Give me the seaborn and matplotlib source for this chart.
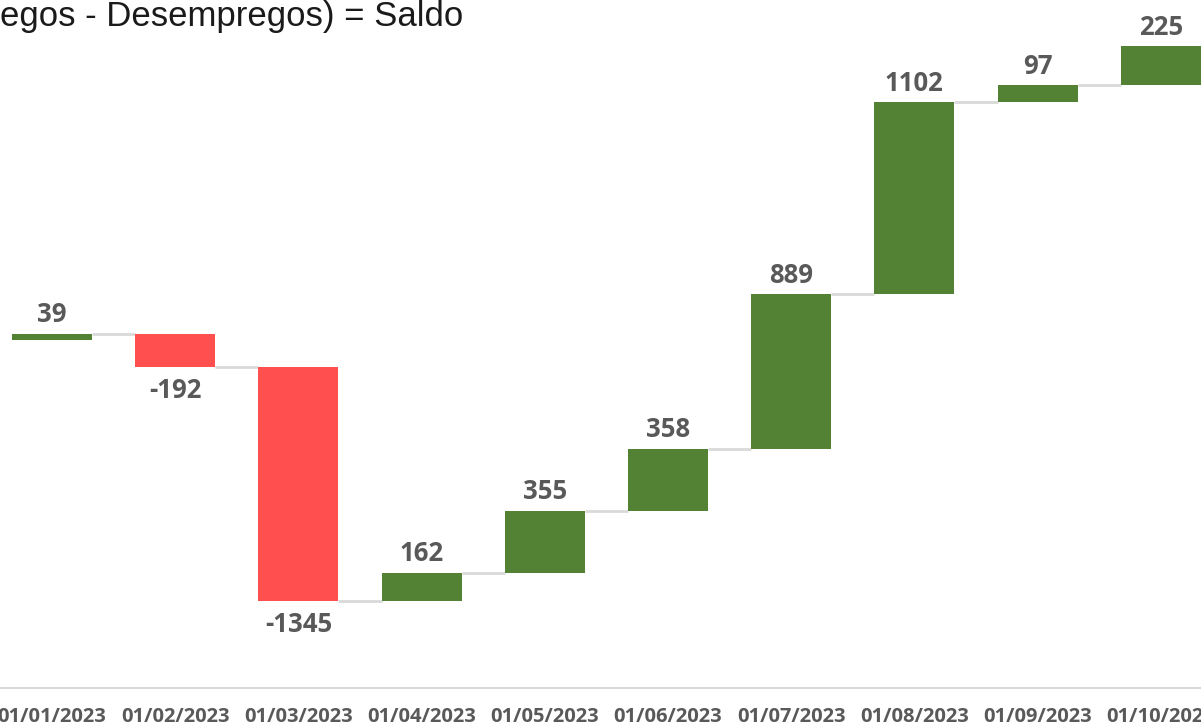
import numpy as np
import pandas as pd
import matplotlib
matplotlib.use("Agg")
import matplotlib.pyplot as plt
import seaborn as sns

# ---- data ----
categories = ["01/01/2023", "01/02/2023", "01/03/2023", "01/04/2023", "01/05/2023",
              "01/06/2023", "01/07/2023", "01/08/2023", "01/09/2023", "01/10/2023"]
values = [39, -192, -1345, 162, 355, 358, 889, 1102, 97, 225]
title_text = "egos - Desempregos) = Saldo"

GREEN = "#548235"
RED = "#FF4F4F"
GREY_TXT = "#595959"
LINE = "#D9D9D9"

vals = np.array(values, dtype=float)
ends = np.cumsum(vals)
starts = ends - vals

df = pd.DataFrame({"Data": categories, "Saldo": vals})

sns.set_theme(style="white")
plt.rcParams["font.family"] = ["Open Sans", "DejaVu Sans"]

fig = plt.figure(figsize=(12.01, 7.26), dpi=100)
ax = fig.add_axes([0, 38 / 726, 1, 688 / 726])

sns.barplot(data=df, x="Data", y="Saldo", order=categories, width=0.65,
            bottom=starts, color=GREEN, ax=ax, errorbar=None, linewidth=0,
            zorder=3)
for p, v in zip(ax.patches, vals):
    p.set_facecolor(GREEN if v >= 0 else RED)
    p.set_edgecolor("none")

# connectors
w = 0.65
for i in range(len(vals) - 1):
    ax.plot([i + w / 2, i + 1 - w / 2], [ends[i], ends[i]], color=LINE, lw=2,
            zorder=2, solid_capstyle="butt")

# data labels
for i, v in enumerate(vals):
    if v >= 0:
        ax.annotate(f"{int(v)}", (i, ends[i]), xytext=(0, 4), textcoords="offset points",
                    ha="center", va="bottom", fontsize=18.5, fontweight="bold",
                    color=GREY_TXT)
    else:
        ax.annotate(f"{int(v)}", (i, ends[i]), xytext=(0, -7), textcoords="offset points",
                    ha="center", va="top", fontsize=18.5, fontweight="bold",
                    color=GREY_TXT)

ax.set_xlim(-52 / 123.2, (1201 - 52) / 123.2)
ax.set_ylim(-1998, 1956)
ax.set_yticks([])
ax.set_xlabel("")
ax.set_ylabel("")
for s in ["top", "left", "right"]:
    ax.spines[s].set_visible(False)
ax.spines["bottom"].set_color(LINE)
ax.spines["bottom"].set_linewidth(1.5)
ax.tick_params(axis="x", length=0, pad=14, labelsize=14.5, labelcolor=GREY_TXT)
for lab in ax.get_xticklabels():
    lab.set_fontweight("bold")

fig.text(0.0, 1.0, title_text, ha="left", va="top", fontsize=25, color="#1a1a1a",
         family=["Liberation Sans", "DejaVu Sans"])

fig.savefig("out.png", dpi=100)
